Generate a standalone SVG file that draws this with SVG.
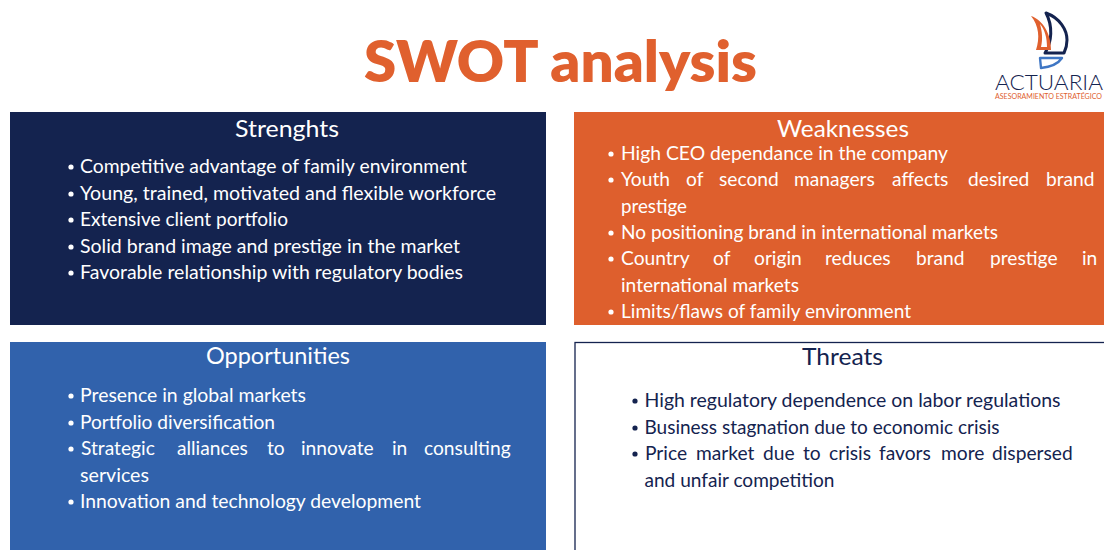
<svg xmlns="http://www.w3.org/2000/svg" width="1104" height="550" viewBox="0 0 1104 550">
<style>
text{font-family:"Lato","Open Sans","Liberation Sans",sans-serif}
.title{font-size:56.5px;font-weight:800;fill:#E0602E}
.head{font-size:24px;fill:#fff}
.item{font-size:18.6px;fill:#fff;transform:translateY(-.5px)}
.just{font-size:19.2px}
.dark{fill:#14234F}
.wh{fill:#fff}
.nv{fill:#14234F}
.sail{fill:none;stroke-linejoin:round}
</style>
<rect width="1104" height="550" fill="#fff"/>
<text class="title" x="364" y="82" textLength="393" lengthAdjust="spacingAndGlyphs">SWOT analysis</text>
<g id="logo">
<path class="sail" stroke="#14234F" stroke-width="3" d="M1046 13C1060 18 1067 30 1067 40C1067 45 1066 49 1064 53L1045 53C1052 42 1053 26 1046 13Z"/>
<path fill="#E0602E" d="M1031 16C1043 20 1051 34 1051 50L1036 50C1040 38 1039 26 1031 16Z"/>
<path fill="#fff" d="M1040 24C1045 30 1047 38 1047 47L1041 47C1043 39 1042 31 1040 24Z"/>
<path class="sail" stroke="#3F76C4" stroke-width="2.4" d="M1040 58L1062 58C1058 64 1050 67 1041 68Z"/>
<text x="995" y="90" font-size="21" font-weight="300" fill="#14234F" textLength="108" lengthAdjust="spacingAndGlyphs">ACTUARIA</text>
<text x="995" y="98.500" font-size="7" fill="#E0602E" textLength="107" lengthAdjust="spacingAndGlyphs">ASESORAMIENTO ESTRATÉGICO</text>
</g>
<g id="strengths">
<rect x="10" y="112" width="536" height="213" fill="#14234F"/>
<text class="head" x="235" y="137" textLength="104" lengthAdjust="spacingAndGlyphs">Strenghts</text>
<circle class="wh" cx="71" cy="167" r="2.6"/><text class="item" x="80" y="173" textLength="387" lengthAdjust="spacingAndGlyphs">Competitive advantage of family environment</text>
<circle class="wh" cx="71" cy="194" r="2.6"/><text class="item" x="80" y="200" textLength="416" lengthAdjust="spacingAndGlyphs">Young, trained, motivated and flexible workforce</text>
<circle class="wh" cx="71" cy="220" r="2.6"/><text class="item" x="80" y="226" textLength="208" lengthAdjust="spacingAndGlyphs">Extensive client portfolio</text>
<circle class="wh" cx="71" cy="247" r="2.6"/><text class="item" x="80" y="253" textLength="380" lengthAdjust="spacingAndGlyphs">Solid brand image and prestige in the market</text>
<circle class="wh" cx="71" cy="273" r="2.6"/><text class="item" x="80" y="279" textLength="383" lengthAdjust="spacingAndGlyphs">Favorable relationship with regulatory bodies</text>
</g>
<g id="weaknesses">
<rect x="574" y="112" width="530" height="213" fill="#DE5F2D"/>
<text class="head" x="777" y="137" textLength="132" lengthAdjust="spacingAndGlyphs">Weaknesses</text>
<circle class="wh" cx="611" cy="154" r="2.6"/><text class="item" x="621" y="160" textLength="327" lengthAdjust="spacingAndGlyphs">High CEO dependance in the company</text>
<circle class="wh" cx="611" cy="180" r="2.6"/><text class="item just" y="186"><tspan x="621">Youth</tspan> <tspan x="686">of</tspan> <tspan x="719">second</tspan> <tspan x="794">managers</tspan> <tspan x="892">affects</tspan> <tspan x="968">desired</tspan> <tspan x="1046">brand</tspan></text>
<text class="item" x="621" y="213" textLength="66" lengthAdjust="spacingAndGlyphs">prestige</text>
<circle class="wh" cx="611" cy="233" r="2.6"/><text class="item" x="621" y="239" textLength="377" lengthAdjust="spacingAndGlyphs">No positioning brand in international markets</text>
<circle class="wh" cx="611" cy="259" r="2.6"/><text class="item just" y="265"><tspan x="621">Country</tspan> <tspan x="713">of</tspan> <tspan x="754">origin</tspan> <tspan x="825">reduces</tspan> <tspan x="916">brand</tspan> <tspan x="990">prestige</tspan> <tspan x="1082">in</tspan></text>
<text class="item" x="621" y="292" textLength="178" lengthAdjust="spacingAndGlyphs">international markets</text>
<circle class="wh" cx="611" cy="312" r="2.6"/><text class="item" x="621" y="318" textLength="290" lengthAdjust="spacingAndGlyphs">Limits/flaws of family environment</text>
</g>
<g id="opportunities">
<rect x="10" y="342" width="536" height="208" fill="#3162AC"/>
<text class="head" x="206" y="364" textLength="144" lengthAdjust="spacingAndGlyphs">Opportunities</text>
<circle class="wh" cx="71" cy="396" r="2.6"/><text class="item" x="80" y="402" textLength="226" lengthAdjust="spacingAndGlyphs">Presence in global markets</text>
<circle class="wh" cx="71" cy="423" r="2.6"/><text class="item" x="80" y="429" textLength="195" lengthAdjust="spacingAndGlyphs">Portfolio diversification</text>
<circle class="wh" cx="71" cy="449" r="2.6"/><text class="item just" y="455"><tspan x="81">Strategic</tspan> <tspan x="177">alliances</tspan> <tspan x="267">to</tspan> <tspan x="301">innovate</tspan> <tspan x="392">in</tspan> <tspan x="424">consulting</tspan></text>
<text class="item" x="80" y="482" textLength="69" lengthAdjust="spacingAndGlyphs">services</text>
<circle class="wh" cx="71" cy="502" r="2.6"/><text class="item" x="80" y="508" textLength="341" lengthAdjust="spacingAndGlyphs">Innovation and technology development</text>
</g>
<g id="threats">
<rect x="575" y="342.500" width="535" height="215" fill="#fff" stroke="#14234F" stroke-width="1.300"/>
<text class="head dark" x="802" y="365" textLength="81" lengthAdjust="spacingAndGlyphs">Threats</text>
<circle class="nv" cx="635" cy="401" r="2.6"/><text class="item dark" x="644.500" y="407" textLength="416" lengthAdjust="spacingAndGlyphs">High regulatory dependence on labor regulations</text>
<circle class="nv" cx="635" cy="428" r="2.6"/><text class="item dark" x="644.500" y="434" textLength="355" lengthAdjust="spacingAndGlyphs">Business stagnation due to economic crisis</text>
<circle class="nv" cx="635" cy="454" r="2.6"/><text class="item dark just" y="460"><tspan x="645">Price</tspan> <tspan x="696">market</tspan> <tspan x="763">due</tspan> <tspan x="803">to</tspan> <tspan x="829">crisis</tspan> <tspan x="879">favors</tspan> <tspan x="941">more</tspan> <tspan x="992">dispersed</tspan></text>
<text class="item dark" x="644.500" y="487" textLength="190" lengthAdjust="spacingAndGlyphs">and unfair competition</text>
</g>
<g id="connectors"/>
</svg>
